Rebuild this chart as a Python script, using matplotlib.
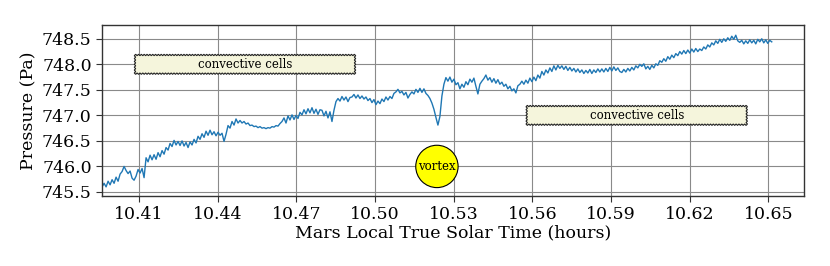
import numpy as np
import matplotlib as mpl
from matplotlib import pyplot as plt

# pressure trace (Pa), evenly sampled between t_start and t_end
t_start = 10.3959
t_end = 10.6513
pressure = [
    745.60, 745.67, 745.60, 745.71, 745.64, 745.74, 745.67, 745.79, 745.71, 745.85,
    745.90, 746.00, 745.92, 745.86, 745.91, 745.77, 745.73, 745.81, 745.94, 745.87,
    745.96, 745.78, 746.17, 746.09, 746.22, 746.13, 746.23, 746.14, 746.27, 746.19,
    746.31, 746.24, 746.37, 746.32, 746.45, 746.39, 746.51, 746.42, 746.49, 746.41,
    746.50, 746.40, 746.47, 746.37, 746.48, 746.42, 746.53, 746.46, 746.59, 746.53,
    746.64, 746.57, 746.69, 746.61, 746.71, 746.62, 746.68, 746.60, 746.67, 746.61,
    746.65, 746.49, 746.63, 746.80, 746.75, 746.88, 746.81, 746.93, 746.85, 746.90,
    746.85, 746.88, 746.83, 746.85, 746.80, 746.81, 746.78, 746.79, 746.76, 746.78,
    746.75, 746.76, 746.74, 746.76, 746.75, 746.78, 746.77, 746.80, 746.79, 746.84,
    746.88, 746.95, 746.85, 746.99, 746.91, 747.01, 746.92, 747.00, 746.94, 747.06,
    747.01, 747.11, 747.03, 747.13, 747.05, 747.15, 747.04, 747.12, 747.02, 747.11,
    747.10, 746.99, 747.08, 746.95, 747.07, 746.88, 747.10, 747.27, 747.33, 747.28,
    747.37, 747.30, 747.36, 747.27, 747.35, 747.36, 747.41, 747.34, 747.40, 747.33,
    747.38, 747.32, 747.36, 747.29, 747.33, 747.25, 747.31, 747.21, 747.28, 747.23,
    747.32, 747.27, 747.36, 747.30, 747.37, 747.33, 747.43, 747.46, 747.51, 747.44,
    747.47, 747.40, 747.45, 747.34, 747.41, 747.46, 747.42, 747.51, 747.45, 747.53,
    747.45, 747.52, 747.43, 747.39, 747.33, 747.24, 747.12, 746.96, 746.81, 746.98,
    747.38, 747.61, 747.74, 747.67, 747.75, 747.65, 747.71, 747.60, 747.64, 747.52,
    747.61, 747.55, 747.66, 747.60, 747.71, 747.65, 747.73, 747.57, 747.42, 747.61,
    747.67, 747.72, 747.79, 747.69, 747.74, 747.65, 747.72, 747.63, 747.70, 747.61,
    747.65, 747.57, 747.61, 747.52, 747.57, 747.48, 747.52, 747.44, 747.58, 747.61,
    747.67, 747.61, 747.69, 747.63, 747.73, 747.66, 747.75, 747.68, 747.79, 747.73,
    747.86, 747.79, 747.89, 747.83, 747.93, 747.86, 747.97, 747.89, 747.98, 747.92,
    747.97, 747.90, 747.96, 747.88, 747.94, 747.87, 747.92, 747.85, 747.91, 747.84,
    747.89, 747.82, 747.88, 747.83, 747.90, 747.82, 747.89, 747.84, 747.91, 747.85,
    747.91, 747.85, 747.92, 747.86, 747.94, 747.87, 747.95, 747.88, 747.93, 747.86,
    747.84, 747.90, 747.85, 747.92, 747.87, 747.94, 747.89, 747.97, 747.93, 748.00,
    747.96, 748.01, 747.91, 747.96, 747.90, 747.98, 747.93, 748.01, 747.98, 748.07,
    748.04, 748.11, 748.06, 748.15, 748.10, 748.18, 748.13, 748.21, 748.17, 748.25,
    748.20, 748.27, 748.21, 748.28, 748.22, 748.30, 748.24, 748.31, 748.25, 748.30,
    748.27, 748.34, 748.30, 748.38, 748.34, 748.42, 748.38, 748.46, 748.41, 748.49,
    748.43, 748.50, 748.45, 748.52, 748.47, 748.55, 748.49, 748.57, 748.46, 748.43,
    748.47, 748.40, 748.46, 748.41, 748.48, 748.42, 748.47, 748.40, 748.49, 748.44,
    748.50, 748.42, 748.48, 748.41, 748.47, 748.44,
]
time = np.linspace(t_start, t_end, len(pressure))

x_ticks = [10.41, 10.44, 10.47, 10.50, 10.53, 10.56, 10.59, 10.62, 10.65]
y_ticks = [745.5, 746.0, 746.5, 747.0, 747.5, 748.0, 748.5]

# annotations
cells_labels = ["convective cells", "convective cells"]
cells_t = [10.4504, 10.5998]
cells_p = [748.0, 747.0]
vortex_t = 10.5236
vortex_p = 746.0

plt.rcParams['font.family'] = 'DejaVu Serif'

fig = plt.figure(figsize=(8.3, 2.66), dpi=100)
ax = fig.add_axes([0.123, 0.263, 0.846, 0.643])

ax.plot(time, pressure, color='#1f77b4', lw=1.0)

ax.set_xlim(10.3959, 10.6637)
ax.set_ylim(745.42, 748.77)
ax.set_xticks(x_ticks)
ax.set_xticklabels(["%.2f" % v for v in x_ticks])
ax.set_yticks(y_ticks)
ax.set_yticklabels(["%.1f" % v for v in y_ticks])
ax.tick_params(direction='out', length=4, labelsize=12.5, color='#333333')
ax.grid(True, color='#8a8a8a', lw=0.8)
ax.set_axisbelow(True)
for s in ax.spines.values():
    s.set_color('#333333')
    s.set_linewidth(1.0)

ax.set_xlabel("Mars Local True Solar Time (hours)", fontsize=12.5, labelpad=1)
ax.set_ylabel("Pressure (Pa)", fontsize=12.5, labelpad=3)

pad = " " * 16
for lab, t, p in zip(cells_labels, cells_t, cells_p):
    ax.text(t, p, pad + lab + pad, fontsize=8.5, ha='center', va='center',
            bbox=dict(boxstyle='sawtooth,pad=0.3,tooth_size=0.12',
                      fc='#f5f5dc', ec='#222222', lw=0.8))

ax.text(vortex_t, vortex_p, "vortex", fontsize=8.5, ha='center', va='center',
        bbox=dict(boxstyle='circle,pad=0.2', fc='yellow', ec='black', lw=0.8))

plt.savefig("out.png", dpi=100)
